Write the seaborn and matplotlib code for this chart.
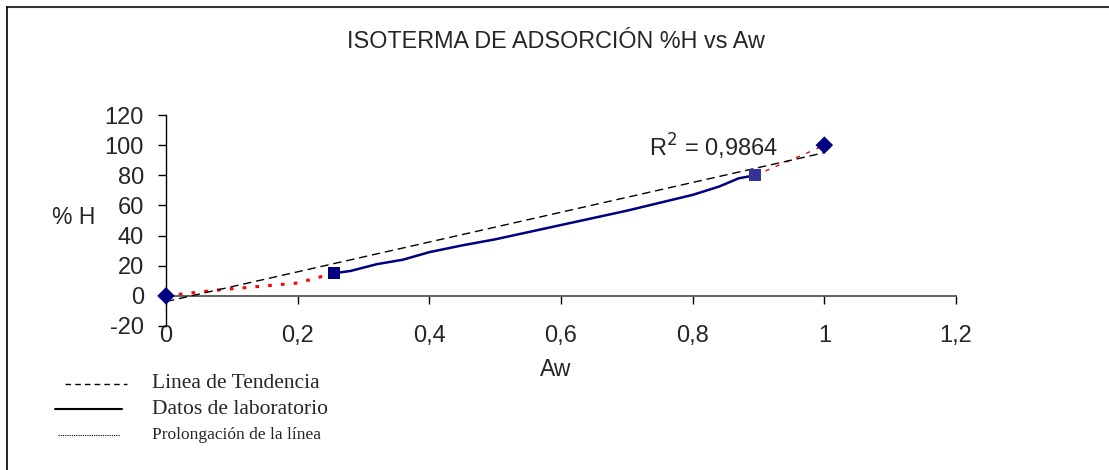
import numpy as np
import pandas as pd
import matplotlib
matplotlib.use("Agg")
import matplotlib.pyplot as plt
import seaborn as sns
from matplotlib.lines import Line2D

# ---- data ----
marker_aw = [0.0, 0.255, 0.895, 1.0]
marker_h = [0.0, 15.0, 80.0, 100.0]
marker_kind = ["diamond", "square", "square", "diamond"]
marker_id = ["p0", "p1", "p2", "p3"]

lab_aw = [0.255, 0.28, 0.32, 0.36, 0.40, 0.45, 0.50, 0.60, 0.70, 0.80, 0.84, 0.87, 0.895]
lab_h = [15.0, 16.5, 21.0, 24.0, 29.0, 33.5, 37.5, 47.0, 56.5, 67.0, 72.5, 78.0, 80.0]

prol_low_aw = [0.0, 0.07, 0.20, 0.255]
prol_low_h = [0.0, 3.5, 8.5, 15.0]
prol_high_aw = [0.895, 0.98, 1.0]
prol_high_h = [80.0, 96.0, 100.0]

trend_aw = [0.0, 1.0]
trend_h = [-3.8, 95.0]

r2_text = "R$^2$ = 0,9864"
x_ticks = [0, 0.2, 0.4, 0.6, 0.8, 1.0, 1.2]
x_ticklabels = ["0", "0,2", "0,4", "0,6", "0,8", "1", "1,2"]
y_ticks = [-20, 0, 20, 40, 60, 80, 100, 120]

sns.set_theme(style="white")
plt.rcParams["font.family"] = ["Liberation Sans", "DejaVu Sans"]
plt.rcParams["axes.unicode_minus"] = False

W, H = 1109, 470
fig = plt.figure(figsize=(W / 100, H / 100), dpi=100)
ax = fig.add_axes([166 / W, 1 - 326 / H, (956 - 166) / W, (326 - 115) / H])

navy = "#000080"

# trend line
sns.lineplot(x=trend_aw, y=trend_h, ax=ax, color="black", lw=1.0,
             linestyle=(0, (6, 3.5)), estimator=None, sort=False, zorder=3)
# laboratory data
sns.lineplot(x=lab_aw, y=lab_h, ax=ax, color=navy, lw=1.8,
             estimator=None, sort=False, zorder=4)
# prolongation (red dotted)
sns.lineplot(x=prol_low_aw, y=prol_low_h, ax=ax, color="red", lw=2.2,
             linestyle=(0, (1.2, 3)), estimator=None, sort=False, zorder=2)
sns.lineplot(x=prol_high_aw, y=prol_high_h, ax=ax, color="red", lw=1.0,
             linestyle=(0, (3, 5)), estimator=None, sort=False, zorder=2)

# markers
df = pd.DataFrame({"aw": marker_aw, "h": marker_h, "kind": marker_kind, "id": marker_id})
sc = sns.scatterplot(data=df, x="aw", y="h", style="kind", hue="id",
                     markers={"diamond": "D", "square": "s"},
                     palette={"p0": navy, "p1": navy, "p2": "#333399", "p3": navy},
                     s=80, edgecolor="none", ax=ax, legend=False, zorder=5)
for coll in ax.collections:
    coll.set_clip_on(False)

ax.set_xlim(0, 1.2)
ax.set_ylim(-20, 120)
ax.set_xticks(x_ticks)
ax.set_xticklabels(x_ticklabels)
ax.set_yticks(y_ticks)
ax.set_xlabel("")
ax.set_ylabel("")

for s in ["top", "right"]:
    ax.spines[s].set_visible(False)
ax.spines["left"].set_color("black")
ax.spines["left"].set_linewidth(1.0)
ax.spines["bottom"].set_position(("data", 0))
ax.spines["bottom"].set_color("#555555")
ax.spines["bottom"].set_linewidth(1.3)

ax.tick_params(axis="y", direction="out", length=6, width=1, color="black",
               labelsize=17, pad=10, left=True)
ax.tick_params(axis="x", direction="out", length=6, width=1, color="black",
               labelsize=17, pad=15, bottom=True)

ax.text(0.832, 99, r2_text, fontsize=17, ha="center", va="center")

fig.text(556 / W, 1 - 42 / H, "ISOTERMA DE ADSORCIÓN %H vs Aw", fontsize=16.8,
         ha="center", va="center")
fig.text(556 / W, 1 - 369 / H, "Aw", fontsize=16.5, ha="center", va="center")
fig.text(74 / W, 1 - 218 / H, "% H", fontsize=16.5, ha="center", va="center")

# custom legend
serif = ["Liberation Serif", "DejaVu Serif"]
leg = [
    ((65, 127), 384, dict(color="black", lw=1.0, linestyle=(0, (4, 3))), "Linea de Tendencia", 15.5),
    ((55, 122), 409, dict(color="black", lw=1.5, linestyle="-"), "Datos de laboratorio", 15.5),
    ((58, 120), 435, dict(color="black", lw=0.8, linestyle=(0, (1, 1))), "Prolongación de la línea", 12.5),
]
for (x0, x1), y, style, label, fs in leg:
    fig.add_artist(Line2D([x0 / W, x1 / W], [1 - y / H, 1 - y / H],
                          transform=fig.transFigure, **style))
    fig.text(152 / W, 1 - y / H, label, fontsize=fs, family=serif,
             ha="left", va="center")

# border (top and left)
fig.add_artist(Line2D([6.5 / W, 1.0], [1 - 6.5 / H, 1 - 6.5 / H],
                      transform=fig.transFigure, color="#333333", lw=1.5))
fig.add_artist(Line2D([6.5 / W, 6.5 / W], [1 - 6.5 / H, 0],
                      transform=fig.transFigure, color="black", lw=1.2))

fig.savefig("out.png", dpi=100, facecolor="white")
